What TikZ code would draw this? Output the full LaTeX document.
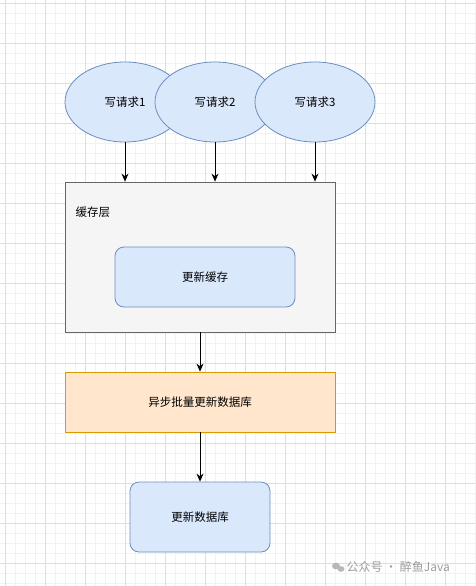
\documentclass[tikz,border=0pt]{standalone}
\usepackage{fontspec}
\newfontfamily\cjk{Noto Sans CJK SC}
\usepackage{tikz}
\usetikzlibrary{arrows.meta,shapes.geometric}
\usepackage{xcolor}
\definecolor{reqfill}{HTML}{DAE8FC}
\definecolor{reqline}{HTML}{6C8EBF}
\definecolor{layerfill}{HTML}{F5F5F5}
\definecolor{layerline}{HTML}{666666}
\definecolor{asyncfill}{HTML}{FFE6CC}
\definecolor{asyncline}{HTML}{D79B00}

\begin{document}
\begin{tikzpicture}[x=1pt,y=-1pt,>={Stealth[length=8pt,width=7pt]},font=\cjk\fontsize{11.5}{14}\selectfont,line cap=round,
  req/.style={ellipse,draw=reqline,fill=reqfill,line width=0.8pt,minimum width=120pt,minimum height=80pt,inner sep=0pt},
  roundbox/.style={rectangle,rounded corners=9pt,draw=reqline,fill=reqfill,line width=0.8pt,inner sep=0pt},
  flow/.style={->,black,line width=0.8pt}]
\useasboundingbox (0,0) rectangle (475,586);
\fill[white] (0,0) rectangle (475,586);
\foreach \gx in {5,15,...,475} \draw[black!5,line width=0.5pt] (\gx,0) -- (\gx,586);
\foreach \gy in {3,13,...,586} \draw[black!5,line width=0.5pt] (0,\gy) -- (475,\gy);
\foreach \gx in {5,45,...,475} \draw[black!13,line width=0.6pt] (\gx,0) -- (\gx,586);
\foreach \gy in {3,43,...,586} \draw[black!13,line width=0.6pt] (0,\gy) -- (475,\gy);
% write requests
\node[req] (w1) at (125,102) {写请求1};
\node[req] (w2) at (215,102) {写请求2};
\node[req] (w3) at (315,102) {写请求3};
% cache layer
\node[rectangle,draw=layerline,fill=layerfill,line width=0.8pt,minimum width=270pt,minimum height=150pt,inner sep=0pt] (cache) at (200,257) {};
\node[anchor=west] (cachelabel) at (72,212) {缓存层};
\node[roundbox,minimum width=180pt,minimum height=60pt] (upcache) at (205,277) {更新缓存};
% async
\node[rectangle,draw=asyncline,fill=asyncfill,line width=0.8pt,minimum width=270pt,minimum height=60pt,inner sep=0pt] (async) at (200,402) {异步批量更新数据库};
\node[roundbox,minimum width=140pt,minimum height=70pt] (db) at (200,517) {更新数据库};
\draw[flow] (w1.south) -- (w1.south |- cache.north);
\draw[flow] (w2.south) -- (w2.south |- cache.north);
\draw[flow] (w3.south) -- (w3.south |- cache.north);
\draw[flow] (cache.south) -- (async.north);
\draw[flow] (async.south) -- (db.north);
% watermark
\fill[black!28] (336,566) ellipse (4pt and 3.4pt);
\fill[black!28] (341,569) ellipse (3.4pt and 2.8pt);
\node[anchor=west,text=black!38,font=\cjk\fontsize{12}{14}\selectfont] (mark) at (343,567) {公众号 · 醉鱼Java};
\end{tikzpicture}
\end{document}
